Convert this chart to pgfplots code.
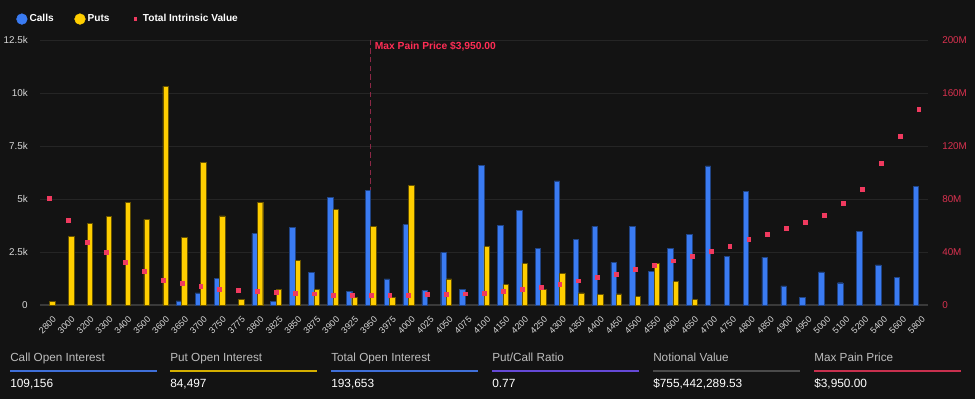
\documentclass[border=0pt]{standalone}
\usepackage{pgfplots}
\pgfplotsset{compat=1.18}
\usepackage{pgfplotstable}
\usepackage{fontspec}
\setmainfont{Liberation Sans}

\definecolor{bg}{HTML}{131313}
\definecolor{gridc}{HTML}{252525}
\definecolor{axisc}{HTML}{3A3A3A}
\definecolor{callblue}{HTML}{3A7BF2}
\definecolor{putyellow}{HTML}{FFCE00}
\definecolor{tivred}{HTML}{F03A5F}
\definecolor{mpline}{HTML}{8C2846}
\definecolor{mptext}{HTML}{FF2D55}
\definecolor{rtick}{HTML}{D9314F}
\definecolor{ticktxt}{HTML}{D8D8D8}
\definecolor{labc}{HTML}{BDBDBD}
\definecolor{lineblue}{HTML}{3F6FD8}
\definecolor{lineyellow}{HTML}{D4AF00}
\definecolor{linepurple}{HTML}{6549D6}
\definecolor{linegray}{HTML}{4A4A4A}
\definecolor{linered}{HTML}{C8304E}

\pgfplotstableread{
idx strike call put tiv
0 2800 nan 160 80.5
1 3000 nan 3220 64.2
2 3200 nan 3840 47.5
3 3300 nan 4170 39.7
4 3400 nan 4840 32.5
5 3500 nan 4040 25.7
6 3600 nan 10310 19.1
7 3650 190 3180 16.4
8 3700 570 6730 14.6
9 3750 1270 4200 11.8
10 3775 nan 280 11.3
11 3800 3380 4840 10.6
12 3825 160 740 9.8
13 3850 3660 2110 9.1
14 3875 1530 740 8.6
15 3900 5080 4510 7.8
16 3925 640 360 7.8
17 3950 5410 3710 7.3
18 3975 1230 360 7.3
19 4000 3790 5660 7.3
20 4025 690 nan 8.1
21 4050 2470 1230 8.1
22 4075 740 nan 8.6
23 4100 6600 2770 9.1
24 4150 3740 970 10.6
25 4200 4450 1970 11.8
26 4250 2670 740 13.8
27 4300 5850 1480 15.8
28 4350 3100 570 18.4
29 4400 3710 490 21.1
30 4450 2010 530 23.6
31 4500 3710 410 27.2
32 4550 1600 1970 30.2
33 4600 2670 1100 33.5
34 4650 3330 270 37.0
35 4700 6560 nan 41.0
36 4750 2300 nan 44.8
37 4800 5360 nan 49.6
38 4850 2260 nan 53.6
39 4900 900 nan 58.1
40 4950 360 nan 62.6
41 5000 1560 nan 67.9
42 5100 1050 nan 77.2
43 5200 3460 nan 87.3
44 5400 1890 nan 106.9
45 5600 1300 nan 127.5
46 5800 5600 nan 147.9
}\datatable

\newcommand{\statlab}[3]{%
  \node[anchor=base west, inner sep=0pt, font=\fontsize{8.8}{10}\selectfont, text=labc] at (#1,28.1pt) {#2};
  \draw[#3, line width=1.3pt] (#1,21.15pt) -- ++(110.5pt,0pt);}
\newcommand{\statval}[2]{%
  \node[anchor=base west, inner sep=0pt, font=\fontsize{8.9}{10}\selectfont, text=white] at (#1,8.25pt) {#2};}

\begin{document}
\begin{tikzpicture}
\fill[bg] (0pt,0pt) rectangle (731.25pt,299.25pt);
\useasboundingbox (0pt,0pt) rectangle (731.25pt,299.25pt);

% Axis 1: grid, bars, max pain line, left ticks
\begin{axis}[
  at={(30pt,70.5pt)}, anchor=south west,
  scale only axis, width=666pt, height=198.75pt,
  xmin=-0.5, xmax=46.5, ymin=0, ymax=12500,
  axis x line*=bottom, axis y line*=left,
  x axis line style={draw=axisc, line width=0.8pt},
  y axis line style={draw=none},
  ymajorgrids, grid style={draw=gridc, line width=0.6pt},
  major tick length=0pt,
  ytick={0,2500,5000,7500,10000,12500},
  yticklabels={0,2.5k,5k,7.5k,10k,12.5k},
  scaled y ticks=false,
  xtick={0,...,46},
  xticklabels from table={\datatable}{strike},
  yticklabel style={anchor=east, inner sep=0pt, xshift=-9pt, font=\fontsize{7.4}{8}\selectfont, text=ticktxt},
  xticklabel style={rotate=45, anchor=east, inner sep=0.5pt, yshift=-9.5pt, xshift=-3.5pt, font=\fontsize{6.7}{7}\selectfont, text=ticktxt},
  /pgf/number format/assume math mode=true,
  clip=false,
]
\addplot[mpline, line width=0.9pt, dash pattern=on 4pt off 2.5pt, forget plot] coordinates {(17,0) (17,12500)};
\addplot[ybar, bar width=4.1pt, bar shift=-2.05pt, fill=callblue, draw=callblue!55!black, line width=0.35pt] table[x=idx,y=call]{\datatable};
\addplot[ybar, bar width=4.1pt, bar shift=2.05pt, fill=putyellow, draw=putyellow!40!black, line width=0.35pt] table[x=idx,y=put]{\datatable};
\node[anchor=north west, inner sep=0pt, font=\bfseries\fontsize{7.7}{9}\selectfont, text=mptext] at (axis cs:17,12500) [xshift=3pt, yshift=-1.5pt] {Max Pain Price \$3,950.00};
\end{axis}

% Axis 2: total intrinsic value, right ticks, legend
\begin{axis}[
  at={(30pt,70.5pt)}, anchor=south west,
  scale only axis, width=666pt, height=198.75pt,
  xmin=-0.5, xmax=46.5, ymin=0, ymax=200,
  axis x line=none,
  axis y line*=right,
  y axis line style={draw=none},
  major tick length=0pt,
  ytick={0,40,80,120,160,200},
  yticklabels={0,40M,80M,120M,160M,200M},
  yticklabel style={anchor=west, inner sep=0pt, xshift=10.5pt, font=\fontsize{7.4}{8}\selectfont, text=rtick},
  /pgf/number format/assume math mode=true,
  clip=false,
  legend columns=3,
  legend style={at={(-0.0315,1.079)}, anchor=west, draw=none, fill=none,
    text=white, font=\bfseries\fontsize{7.6}{9}\selectfont,
    /tikz/every even column/.append style={column sep=14pt},
    nodes={inner sep=1.5pt}},
  legend cell align=left,
]
\addlegendimage{legend image code/.code={\fill[callblue] (4pt,0pt) circle (4pt);}}
\addlegendentry{Calls}
\addlegendimage{legend image code/.code={\fill[putyellow] (4pt,0pt) circle (4pt);}}
\addlegendentry{Puts}
\addplot[only marks, mark=square*, mark size=1.45pt, color=tivred,
  mark options={solid, line width=0.1pt},
  legend image code/.code={\path[draw=none, fill=none] (0pt,-4pt) rectangle (8pt,4pt); \fill[tivred, draw=none] (2.6pt,-1.4pt) rectangle (5.4pt,1.4pt);}]
  table[x=idx,y=tiv]{\datatable};
\addlegendentry{Total Intrinsic Value}
\end{axis}

% Bottom summary panel
\statlab{7.5pt}{Call Open Interest}{lineblue}
\statval{7.5pt}{109,156}
\statlab{127.5pt}{Put Open Interest}{lineyellow}
\statval{127.5pt}{84,497}
\statlab{248.25pt}{Total Open Interest}{lineblue}
\statval{248.25pt}{193,653}
\statlab{369pt}{Put/Call Ratio}{linepurple}
\statval{369pt}{0.77}
\statlab{489.75pt}{Notional Value}{linegray}
\statval{489.75pt}{\$755,442,289.53}
\statlab{610.5pt}{Max Pain Price}{linered}
\statval{610.5pt}{\$3,950.00}
\end{tikzpicture}
\end{document}
